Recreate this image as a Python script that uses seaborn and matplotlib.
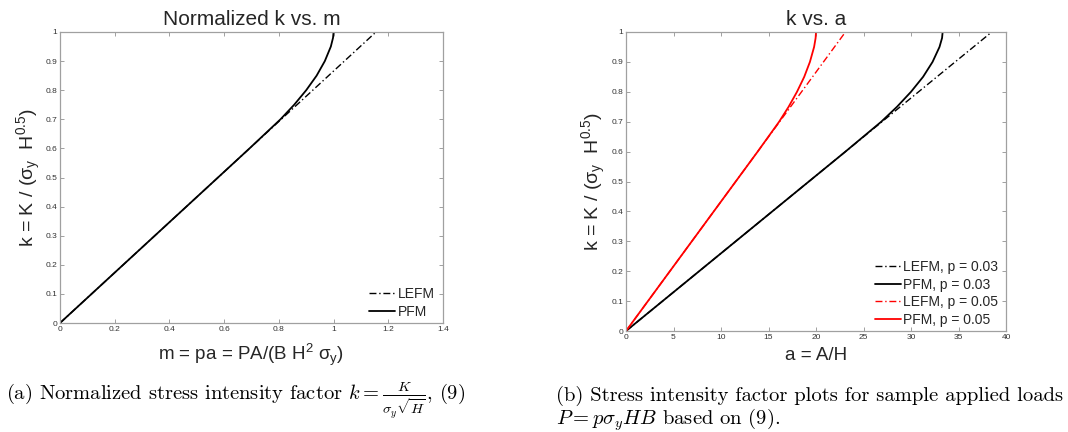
import numpy as np
import pandas as pd
import matplotlib
matplotlib.use("Agg")
import matplotlib.pyplot as plt
import seaborn as sns

# ---------------- data ----------------
# Left panel: normalized k vs m
m_lefm = [0.0, 1.155]
k_lefm = [0.0, 1.0]
m_pfm = [0.0, 0.1155, 0.2310, 0.3465, 0.4620, 0.5775, 0.6928, 0.806, 0.856,
         0.900, 0.938, 0.968, 0.990, 0.998, 1.0]
k_pfm = [0.0, 0.1, 0.2, 0.3, 0.4, 0.5, 0.6, 0.7, 0.75,
         0.8, 0.85, 0.9, 0.95, 0.98, 1.0]

# Right panel: k vs a for p = 0.03 and p = 0.05
a_lefm_03 = [0.0, 38.5]
a_lefm_05 = [0.0, 23.1]
a_pfm_03 = [0.0, 3.85, 7.70, 11.55, 15.40, 19.25, 23.10, 26.87, 28.53,
            30.00, 31.27, 32.27, 33.00, 33.27, 33.33]
a_pfm_05 = [0.0, 2.31, 4.62, 6.93, 9.24, 11.55, 13.86, 16.12, 17.12,
            18.00, 18.76, 19.36, 19.80, 19.96, 20.0]

left_xticks = [0, 0.2, 0.4, 0.6, 0.8, 1.0, 1.2, 1.4]
right_xticks = [0, 5, 10, 15, 20, 25, 30, 35, 40]
yticks = [0, 0.1, 0.2, 0.3, 0.4, 0.5, 0.6, 0.7, 0.8, 0.9, 1.0]

# ---------------- style ----------------
sns.set_style("ticks")
plt.rcParams['font.family'] = ['Liberation Sans', 'DejaVu Sans']
plt.rcParams['mathtext.fontset'] = 'custom'
plt.rcParams['mathtext.rm'] = 'Liberation Sans'
plt.rcParams['mathtext.it'] = 'Liberation Sans'
plt.rcParams['mathtext.bf'] = 'Liberation Sans:bold'
plt.rcParams['mathtext.sf'] = 'Liberation Sans'

W, H = 1068, 432
fig = plt.figure(figsize=(W / 100, H / 100), dpi=100)
fig.patch.set_facecolor('white')

ax1 = fig.add_axes([60 / W, 1 - 323 / H, 383 / W, 291 / H])
ax2 = fig.add_axes([626 / W, 1 - 331 / H, 380 / W, 299 / H])

dashdot = (0, (5, 2, 1, 2))

df_left = pd.concat([
    pd.DataFrame({'m': m_lefm, 'k': k_lefm, 'model': 'LEFM'}),
    pd.DataFrame({'m': m_pfm, 'k': k_pfm, 'model': 'PFM'}),
], ignore_index=True)

sns.lineplot(data=df_left[df_left.model == 'LEFM'], x='m', y='k', ax=ax1,
             sort=False, estimator=None, color='black', lw=1.0,
             linestyle=dashdot, label='LEFM')
sns.lineplot(data=df_left[df_left.model == 'PFM'], x='m', y='k', ax=ax1,
             sort=False, estimator=None, color='black', lw=1.3,
             label='PFM')

series_right = [
    ('LEFM, p = 0.03', a_lefm_03, k_lefm, 'black', dashdot, 1.0),
    ('PFM, p = 0.03', a_pfm_03, k_pfm, 'black', '-', 1.3),
    ('LEFM, p = 0.05', a_lefm_05, k_lefm, '#ff0000', dashdot, 1.0),
    ('PFM, p = 0.05', a_pfm_05, k_pfm, '#ff0000', '-', 1.3),
]
for lab, xa, ya, col, ls, lw in series_right:
    d = pd.DataFrame({'a': xa, 'k': ya})
    sns.lineplot(data=d, x='a', y='k', ax=ax2, sort=False, estimator=None,
                 color=col, lw=lw, linestyle=ls, label=lab)


def style_axes(ax, xlim, xticks):
    ax.set_xlim(*xlim)
    ax.set_ylim(0, 1)
    ax.set_xticks(xticks)
    ax.set_yticks(yticks)
    ax.set_xticklabels([f'{v:g}' for v in xticks])
    ax.set_yticklabels([f'{v:g}' for v in yticks])
    for s in ax.spines.values():
        s.set_visible(True)
        s.set_color('#a0a0a0')
        s.set_linewidth(0.9)
    ax.tick_params(direction='in', length=3, width=0.7, color='#a0a0a0',
                   labelsize=6, labelcolor='#333333', top=True, right=True,
                   pad=2)


style_axes(ax1, (0, 1.4), left_xticks)
style_axes(ax2, (0, 40), right_xticks)

ylab = r'k = K / ($\sigma_{\mathrm{y}}$  H$^{0.5}$)'
ax1.set_title('Normalized k vs. m', fontsize=15, pad=5)
ax1.set_xlabel(r'm = pa = PA/(B H$^{2}$ $\sigma_{\mathrm{y}}$)', fontsize=13.5)
ax1.set_ylabel(ylab, fontsize=14)
ax2.set_title('k vs. a', fontsize=15, pad=5)
ax2.set_xlabel('a = A/H', fontsize=13.5)
ax2.set_ylabel(ylab, fontsize=14)

for ax in (ax1, ax2):
    ax.xaxis.label.set_va('center')
    ax.yaxis.label.set_va('center')
ax1.xaxis.set_label_coords(0.499, (323 - 355) / 291)
ax1.yaxis.set_label_coords((29 - 60) / 383, 0.5)
ax2.xaxis.set_label_coords(0.5, (331 - 355) / 299)
ax2.yaxis.set_label_coords((594 - 626) / 380, 0.5)

leg_kw = dict(frameon=False, fontsize=10, handlelength=1.9,
              handletextpad=0.15, borderpad=0, borderaxespad=0,
              labelspacing=0.25, loc='lower left')
ax1.legend(bbox_to_anchor=((369 - 60) / 383, 0.015), **leg_kw)
ax2.legend(bbox_to_anchor=((875 - 626) / 380, 0.015), **leg_kw)

# ---------------- captions ----------------
cap_kw = dict(family='cmr10', math_fontfamily='cm', fontsize=14.8,
              va='baseline', ha='left', color='black')
fig.text(6 / W, 1 - 401 / H,
         r'(a) Normalized stress intensity factor $k = \frac{K}{\sigma_y\sqrt{H}}$, (9)',
         **cap_kw)
fig.text(556 / W, 1 - 401 / H,
         '(b) Stress intensity factor plots for sample applied loads', **cap_kw)
fig.text(556 / W, 1 - 425 / H,
         r'$P = p\sigma_y HB$ based on (9).', **cap_kw)

fig.savefig('out.png', dpi=100, facecolor='white')
